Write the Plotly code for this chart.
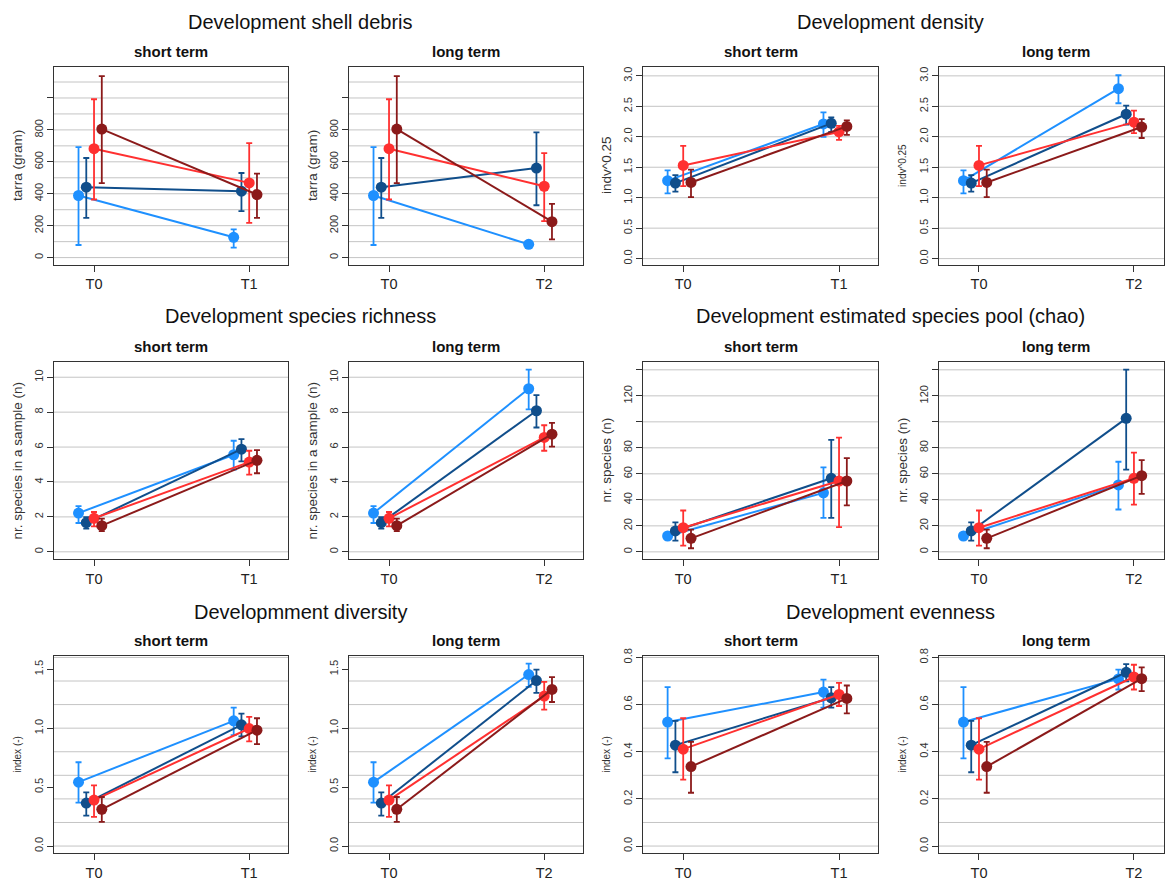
import plotly.graph_objects as go

W, H = 1166, 881
FONT = "Liberation Sans, Arial, sans-serif"

# Four treatment groups, drawn in this order
groups = ["group 1", "group 2", "group 3", "group 4"]
colors = ["#1E90FF", "#104E8B", "#FF3030", "#8B1A1A"]

# ---- shell debris (tarra, gram) ----
shell_t0_mean = [389, 441, 682, 805]
shell_t0_lo = [79, 249, 364, 466]
shell_t0_hi = [692, 624, 992, 1137]
shell_t1_mean = [127, 416, 468, 395]
shell_t1_lo = [62, 291, 218, 249]
shell_t1_hi = [177, 530, 717, 526]
shell_t2_mean = [83, 561, 447, 225]
shell_t2_lo = [72, 328, 229, 114]
shell_t2_hi = [94, 784, 655, 337]

# ---- density (indv^0.25) ----
dens_t0_mean = [1.28, 1.24, 1.53, 1.25]
dens_t0_lo = [1.07, 1.10, 1.19, 1.01]
dens_t0_hi = [1.45, 1.37, 1.85, 1.46]
dens_t1_mean = [2.21, 2.22, 2.08, 2.17]
dens_t1_lo = [2.00, 2.08, 1.95, 2.03]
dens_t1_hi = [2.40, 2.32, 2.18, 2.27]
dens_t2_mean = [2.79, 2.37, 2.24, 2.16]
dens_t2_lo = [2.55, 2.20, 2.06, 1.98]
dens_t2_hi = [3.01, 2.51, 2.43, 2.29]

# ---- species richness (n per sample) ----
rich_t0_mean = [2.22, 1.67, 1.92, 1.50]
rich_t0_lo = [1.65, 1.33, 1.46, 1.18]
rich_t0_hi = [2.62, 1.99, 2.28, 1.90]
rich_t1_mean = [5.56, 5.88, 5.14, 5.24]
rich_t1_lo = [4.71, 5.18, 4.42, 4.50]
rich_t1_hi = [6.36, 6.45, 5.79, 5.83]
rich_t2_mean = [9.34, 8.08, 6.55, 6.74]
rich_t2_lo = [8.16, 7.12, 5.79, 6.02]
rich_t2_hi = [10.44, 8.98, 7.25, 7.38]

# ---- estimated species pool (chao) ----
chao_t0_mean = [12.2, 16.1, 18.6, 10.4]
chao_t0_lo = [9.7, 8.7, 4.8, 2.8]
chao_t0_hi = [14.5, 22.7, 31.8, 17.1]
chao_t1_mean = [45.4, 56.6, 54.5, 54.5]
chao_t1_lo = [26.2, 26.2, 19.1, 35.7]
chao_t1_hi = [65.0, 86.1, 87.9, 72.1]
chao_t2_mean = [51.5, 102.7, 56.6, 58.6]
chao_t2_lo = [32.6, 63.2, 36.4, 44.6]
chao_t2_hi = [69.3, 140.1, 76.4, 70.6]

# ---- diversity index ----
div_t0_mean = [0.542, 0.365, 0.390, 0.312]
div_t0_lo = [0.368, 0.258, 0.247, 0.205]
div_t0_hi = [0.711, 0.455, 0.514, 0.416]
div_t1_mean = [1.062, 1.028, 0.997, 0.983]
div_t1_lo = [0.941, 0.930, 0.888, 0.865]
div_t1_hi = [1.174, 1.124, 1.096, 1.084]
div_t2_mean = [1.455, 1.404, 1.272, 1.329]
div_t2_lo = [1.351, 1.300, 1.157, 1.222]
div_t2_hi = [1.548, 1.497, 1.393, 1.433]

# ---- evenness index ----
even_t0_mean = [0.526, 0.428, 0.411, 0.337]
even_t0_lo = [0.372, 0.313, 0.282, 0.226]
even_t0_hi = [0.674, 0.531, 0.542, 0.442]
even_t1_mean = [0.653, 0.629, 0.643, 0.626]
even_t1_lo = [0.587, 0.587, 0.594, 0.563]
even_t1_hi = [0.706, 0.674, 0.692, 0.681]
even_t2_mean = [0.709, 0.737, 0.717, 0.710]
even_t2_lo = [0.664, 0.699, 0.664, 0.657]
even_t2_hi = [0.748, 0.772, 0.769, 0.758]

short_labels = ["T0", "T1"]
long_labels = ["T0", "T2"]

group_titles = [
    ["Development shell debris", "Development density"],
    ["Development species richness", "Development estimated species pool (chao)"],
    ["Developmment diversity", "Development evenness"],
]


def rng(a, b, step):
    out, v = [], a
    while v <= b + 1e-9:
        out.append(round(v, 6))
        v += step
    return out


# per-variable axis setup
variables = {
    "shell": dict(
        t0=(shell_t0_mean, shell_t0_lo, shell_t0_hi),
        t1=(shell_t1_mean, shell_t1_lo, shell_t1_hi),
        t2=(shell_t2_mean, shell_t2_lo, shell_t2_hi),
        yrange=[-46, 1195], ticks=rng(0, 1000, 200),
        labels=["0", "200", "400", "600", "800", ""],
        grid=rng(0, 1100, 100),
        ytitle=("tarra (gram)", "tarra (gram)"), tsize=(13.5, 13.5)),
    "density": dict(
        t0=(dens_t0_mean, dens_t0_lo, dens_t0_hi),
        t1=(dens_t1_mean, dens_t1_lo, dens_t1_hi),
        t2=(dens_t2_mean, dens_t2_lo, dens_t2_hi),
        yrange=[-0.104, 3.148], ticks=rng(0, 3, 0.5),
        labels=["0.0", "0.5", "1.0", "1.5", "2.0", "2.5", "3.0"],
        grid=rng(0, 3, 0.5),
        ytitle=("indv^0.25", "indv^0.25"), tsize=(13.5, 10)),
    "richness": dict(
        t0=(rich_t0_mean, rich_t0_lo, rich_t0_hi),
        t1=(rich_t1_mean, rich_t1_lo, rich_t1_hi),
        t2=(rich_t2_mean, rich_t2_lo, rich_t2_hi),
        yrange=[-0.42, 10.87], ticks=rng(0, 10, 2),
        labels=["0", "2", "4", "6", "8", "10"],
        grid=rng(0, 10, 2),
        ytitle=("nr. species in a sample (n)", "nr. species in a sample (n)"),
        tsize=(13.5, 13.5)),
    "chao": dict(
        t0=(chao_t0_mean, chao_t0_lo, chao_t0_hi),
        t1=(chao_t1_mean, chao_t1_lo, chao_t1_hi),
        t2=(chao_t2_mean, chao_t2_lo, chao_t2_hi),
        yrange=[-5.6, 146], ticks=rng(0, 140, 20),
        labels=["0", "20", "40", "60", "80", "", "120", ""],
        grid=rng(0, 140, 20),
        ytitle=("nr. species (n)", "nr. species (n)"), tsize=(13.5, 13.5)),
    "diversity": dict(
        t0=(div_t0_mean, div_t0_lo, div_t0_hi),
        t1=(div_t1_mean, div_t1_lo, div_t1_hi),
        t2=(div_t2_mean, div_t2_lo, div_t2_hi),
        yrange=[-0.062, 1.61], ticks=[0, 0.5, 1.0, 1.5],
        labels=["0.0", "0.5", "1.0", "1.5"],
        grid=rng(0, 1.6, 0.2),
        ytitle=("index (-)", "index (-)"), tsize=(10, 10)),
    "evenness": dict(
        t0=(even_t0_mean, even_t0_lo, even_t0_hi),
        t1=(even_t1_mean, even_t1_lo, even_t1_hi),
        t2=(even_t2_mean, even_t2_lo, even_t2_hi),
        yrange=[-0.031, 0.805], ticks=rng(0, 0.8, 0.2),
        labels=["0.0", "0.2", "0.4", "0.6", "0.8"],
        grid=rng(0, 0.8, 0.1),
        ytitle=("index (-)", "index (-)"), tsize=(10, 10)),
}

grid_layout = [["shell", "density"], ["richness", "chao"], ["diversity", "evenness"]]

# panel boxes in pixels
col_px = [(54, 288), (349, 583), (643, 878), (939, 1164)]
row_px = [(60, 262), (361, 562), (661, 862)]
xranges = [[0.742, 2.25], [0.742, 2.25], [0.742, 2.25], [0.742, 2.194]]
dodge = [-0.1, -0.05, 0.0, 0.05]

title_y = [14.5, 314.5, 616]
sub_y = [44.5, 345, 645]
title_x = [300, 890]
sub_x = [171, 466, 760.5, 1056]


def px_x(p):
    return p / W


def px_y(p):
    return 1 - p / H


fig = go.Figure()
annotations = []
shapes = []
layout = {}

axis_font = dict(family=FONT, size=11, color="#333333")

for r in range(3):
    for half in range(2):
        key = grid_layout[r][half]
        v = variables[key]
        annotations.append(dict(
            x=px_x(title_x[half]), y=px_y(title_y[r]), xref="paper", yref="paper",
            text=group_titles[r][half], showarrow=False, xanchor="center",
            yanchor="middle", font=dict(family=FONT, size=20, color="#111111")))
        for term in range(2):
            c = half * 2 + term
            idx = r * 4 + c + 1
            xs = "" if idx == 1 else str(idx)
            x0p, x1p = col_px[c]
            y0p, y1p = row_px[r]
            end = v["t1"] if term == 0 else v["t2"]
            labels = short_labels if term == 0 else long_labels
            start = v["t0"]

            for g in range(4):
                m = [start[0][g], end[0][g]]
                lo = [start[1][g], end[1][g]]
                hi = [start[2][g], end[2][g]]
                fig.add_trace(go.Scatter(
                    x=[1 + dodge[g], 2 + dodge[g]], y=m,
                    mode="lines+markers", name=groups[g], showlegend=False,
                    line=dict(color=colors[g], width=2),
                    marker=dict(color=colors[g], size=11),
                    error_y=dict(type="data", symmetric=False,
                                 array=[h - mm for h, mm in zip(hi, m)],
                                 arrayminus=[mm - l for mm, l in zip(m, lo)],
                                 color=colors[g], thickness=1.8, width=3),
                    xaxis="x" + xs, yaxis="y" + xs, hoverinfo="x+y"))

            layout["xaxis" + xs] = dict(
                domain=[px_x(x0p), px_x(x1p)], range=xranges[c],
                tickmode="array", tickvals=[1, 2], ticktext=labels,
                ticks="outside", ticklen=6, tickcolor="#333333",
                showline=True, linecolor="#333333", linewidth=1, mirror=True,
                showgrid=False, zeroline=False, anchor="y" + xs,
                tickfont=dict(family=FONT, size=14.5, color="#222222"))
            layout["yaxis" + xs] = dict(
                domain=[px_y(y1p), px_y(y0p)], range=v["yrange"],
                tickmode="array", tickvals=v["ticks"], ticktext=v["labels"],
                tickangle=-90, ticks="outside", ticklen=6, tickcolor="#333333",
                showline=True, linecolor="#333333", linewidth=1, mirror=True,
                showgrid=False, zeroline=False, anchor="x" + xs,
                tickfont=axis_font)
            for gv in v["grid"]:
                shapes.append(dict(
                    type="line", layer="below", xref="x" + xs + " domain",
                    yref="y" + xs, x0=0, x1=1, y0=gv, y1=gv,
                    line=dict(color="#C4C4C4", width=1)))

            annotations.append(dict(
                x=px_x(sub_x[c]), y=px_y(sub_y[r]), xref="paper", yref="paper",
                text="<b>" + ("short term" if term == 0 else "long term") + "</b>",
                showarrow=False, xanchor="center", yanchor="middle",
                font=dict(family=FONT, size=15, color="#111111")))
            annotations.append(dict(
                x=px_x(x0p - 36), y=px_y((y0p + y1p) / 2), xref="paper",
                yref="paper", text=v["ytitle"][term], textangle=-90,
                showarrow=False, xanchor="center", yanchor="middle",
                font=dict(family=FONT, size=v["tsize"][term], color="#333333")))

fig.update_layout(
    width=W, height=H, margin=dict(l=0, r=0, t=0, b=0),
    paper_bgcolor="white", plot_bgcolor="white",
    annotations=annotations, shapes=shapes, showlegend=False,
    **layout)

fig.write_html("out.html")
